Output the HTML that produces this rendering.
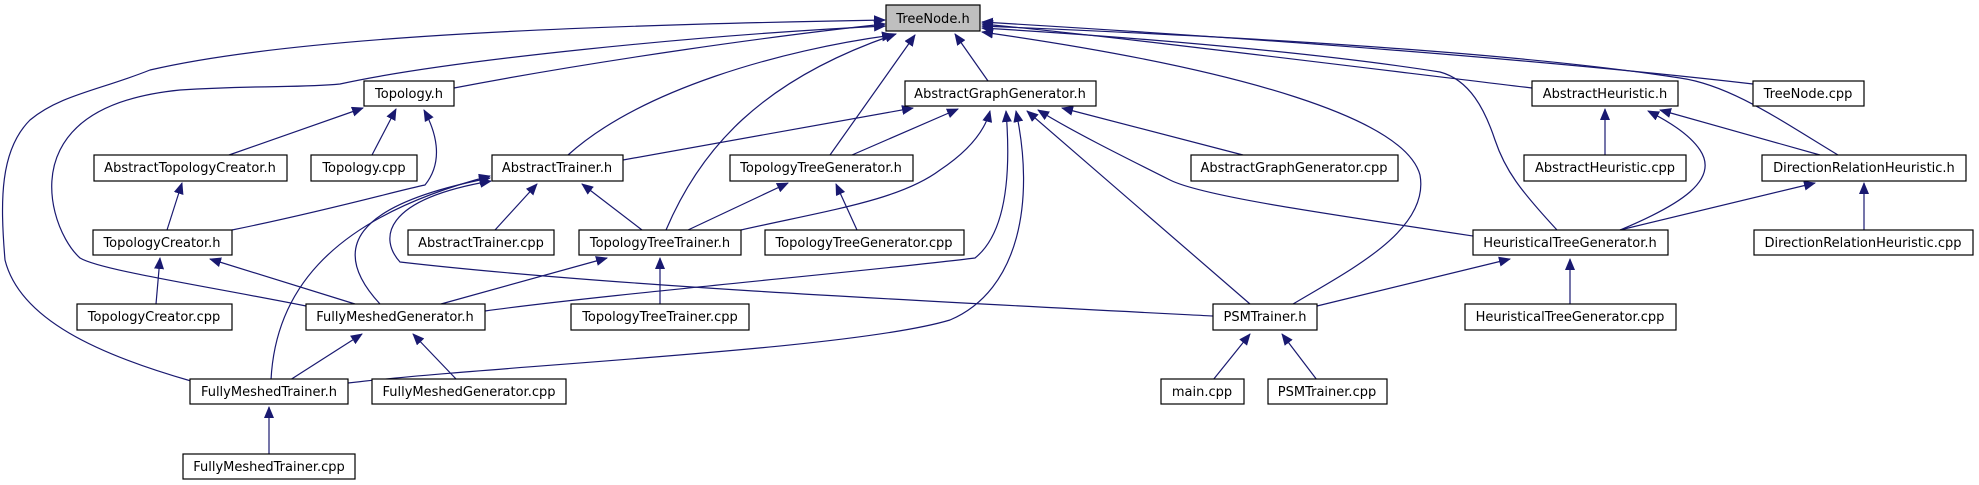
<!DOCTYPE html>
<html><head><meta charset="utf-8"><style>
html,body{margin:0;padding:0;background:#fff;}
svg{display:block;}
text{font-family:"DejaVu Sans","Liberation Sans",sans-serif;font-size:13px;fill:#000;}
</style></head><body>
<svg width="1979" height="485" viewBox="0 0 1979 485" xmlns="http://www.w3.org/2000/svg">
<defs>
<marker id="a" markerUnits="userSpaceOnUse" markerWidth="12" markerHeight="10" refX="11" refY="5" orient="auto">
<path d="M0,0 L12,5 L0,10 Z" fill="#191970"/>
</marker>
</defs>
<g fill="none" stroke="#191970" stroke-width="1.2" marker-end="url(#a)">
<!-- to TreeNode.h -->
<path d="M454,88 C600,60 780,35 885,24"/>
<path d="M988,81 L955,34"/>
<path d="M568,155 C640,90 780,50 893,35"/>
<path d="M830,155 L915,35"/>
<path d="M666,230 C700,150 760,80 896,34"/>
<path d="M306,306 C200,285 100,270 80,258 C60,240 40,190 60,150 C80,110 130,95 180,90 C260,85 300,88 340,84 C450,60 700,35 885,26"/>
<path d="M191,381 C100,355 20,320 5,260 C0,200 0,150 30,120 C60,95 100,90 150,70 C300,35 600,25 885,20"/>
<path d="M1532,88 C1300,60 1100,35 982,24"/>
<path d="M1753,84 C1500,55 1200,35 982,22"/>
<path d="M1838,155 C1780,120 1730,85 1680,78 C1500,50 1200,35 982,26"/>
<path d="M1557,230 C1520,190 1505,170 1495,140 C1485,110 1470,80 1440,72 C1300,50 1100,35 982,28"/>
<path d="M1293,304 C1350,270 1430,230 1420,175 C1405,120 1250,70 982,32"/>
<!-- to AbstractGraphGenerator.h -->
<path d="M623,160 L913,108"/>
<path d="M852,155 L958,109"/>
<path d="M741,230 C830,210 900,200 940,170 C970,150 985,130 990,111"/>
<path d="M485,311 C600,295 880,270 975,258 C1010,230 1010,160 1006,111"/>
<path d="M348,383 C500,365 850,350 950,320 C1020,290 1035,200 1016,111"/>
<path d="M1243,155 L1062,108"/>
<path d="M1250,304 L1027,111"/>
<path d="M1473,236 C1300,210 1200,195 1170,180 C1120,155 1070,130 1038,110"/>
<!-- to Topology.h -->
<path d="M229,155 L363,108"/>
<path d="M372,155 L396,109"/>
<path d="M232,230 C330,210 400,190 425,185 C445,160 435,130 424,110"/>
<!-- AbstractTopologyCreator.h -->
<path d="M167,230 L182,183"/>
<!-- TopologyCreator.h -->
<path d="M156,304 L160,258"/>
<path d="M355,304 L210,259"/>
<!-- AbstractTrainer.h -->
<path d="M495,230 L537,184"/>
<path d="M642,230 L582,184"/>
<path d="M380,304 C330,250 350,205 490,178"/>
<path d="M271,380 C275,300 320,220 490,176"/>
<path d="M1213,316 C900,300 600,285 400,262 C380,240 380,200 491,181"/>
<!-- TopologyTreeGenerator.h -->
<path d="M688,230 L788,183"/>
<path d="M857,230 L836,184"/>
<!-- TopologyTreeTrainer.h -->
<path d="M441,304 L607,258"/>
<path d="M660,304 L660,258"/>
<!-- FullyMeshedGenerator.h -->
<path d="M290,380 L362,334"/>
<path d="M457,380 L413,334"/>
<!-- FullyMeshedTrainer.h -->
<path d="M269,454 L269,407"/>
<!-- AbstractHeuristic.h -->
<path d="M1605,155 L1605,109"/>
<path d="M1820,155 L1660,110"/>
<path d="M1620,230 C1680,205 1720,180 1700,150 C1690,135 1670,122 1648,111"/>
<!-- DirectionRelationHeuristic.h -->
<path d="M1620,230 L1815,183"/>
<path d="M1864,230 L1864,183"/>
<!-- HeuristicalTreeGenerator.h -->
<path d="M1317,306 L1510,259"/>
<path d="M1570,304 L1570,259"/>
<!-- PSMTrainer.h -->
<path d="M1213,380 L1250,334"/>
<path d="M1317,380 L1282,334"/>
</g>
<g stroke="#000" stroke-width="1.2">
<rect x="886" y="5" width="94" height="26" fill="#bfbfbf"/>
<g fill="#fff">
<rect x="364" y="81" width="90" height="25"/>
<rect x="905" y="81" width="191" height="25"/>
<rect x="1532" y="81" width="146" height="25"/>
<rect x="1753" y="81" width="111" height="25"/>
<rect x="94" y="155" width="193" height="26"/>
<rect x="311" y="155" width="106" height="26"/>
<rect x="492" y="155" width="131" height="26"/>
<rect x="730" y="155" width="183" height="26"/>
<rect x="1191" y="155" width="207" height="26"/>
<rect x="1524" y="155" width="162" height="26"/>
<rect x="1762" y="155" width="204" height="26"/>
<rect x="93" y="230" width="139" height="25"/>
<rect x="408" y="230" width="146" height="25"/>
<rect x="579" y="230" width="162" height="25"/>
<rect x="765" y="230" width="199" height="25"/>
<rect x="1473" y="230" width="195" height="25"/>
<rect x="1754" y="230" width="219" height="25"/>
<rect x="77" y="304" width="155" height="26"/>
<rect x="306" y="304" width="179" height="26"/>
<rect x="571" y="304" width="178" height="26"/>
<rect x="1213" y="304" width="104" height="26"/>
<rect x="1465" y="304" width="211" height="26"/>
<rect x="190" y="379" width="158" height="25"/>
<rect x="372" y="379" width="194" height="25"/>
<rect x="1161" y="379" width="83" height="25"/>
<rect x="1268" y="379" width="119" height="25"/>
<rect x="183" y="454" width="172" height="25"/>
</g></g>
<g text-anchor="middle">
<text x="933" y="23">TreeNode.h</text>
<text x="409" y="98">Topology.h</text>
<text x="1000" y="98">AbstractGraphGenerator.h</text>
<text x="1605" y="98">AbstractHeuristic.h</text>
<text x="1808" y="98">TreeNode.cpp</text>
<text x="190" y="172">AbstractTopologyCreator.h</text>
<text x="364" y="172">Topology.cpp</text>
<text x="557" y="172">AbstractTrainer.h</text>
<text x="821" y="172">TopologyTreeGenerator.h</text>
<text x="1294" y="172">AbstractGraphGenerator.cpp</text>
<text x="1605" y="172">AbstractHeuristic.cpp</text>
<text x="1864" y="172">DirectionRelationHeuristic.h</text>
<text x="162" y="247">TopologyCreator.h</text>
<text x="481" y="247">AbstractTrainer.cpp</text>
<text x="660" y="247">TopologyTreeTrainer.h</text>
<text x="864" y="247">TopologyTreeGenerator.cpp</text>
<text x="1570" y="247">HeuristicalTreeGenerator.h</text>
<text x="1863" y="247">DirectionRelationHeuristic.cpp</text>
<text x="154" y="321">TopologyCreator.cpp</text>
<text x="395" y="321">FullyMeshedGenerator.h</text>
<text x="660" y="321">TopologyTreeTrainer.cpp</text>
<text x="1265" y="321">PSMTrainer.h</text>
<text x="1570" y="321">HeuristicalTreeGenerator.cpp</text>
<text x="269" y="396">FullyMeshedTrainer.h</text>
<text x="469" y="396">FullyMeshedGenerator.cpp</text>
<text x="1202" y="396">main.cpp</text>
<text x="1327" y="396">PSMTrainer.cpp</text>
<text x="269" y="471">FullyMeshedTrainer.cpp</text>
</g>
</svg>
</body></html>
